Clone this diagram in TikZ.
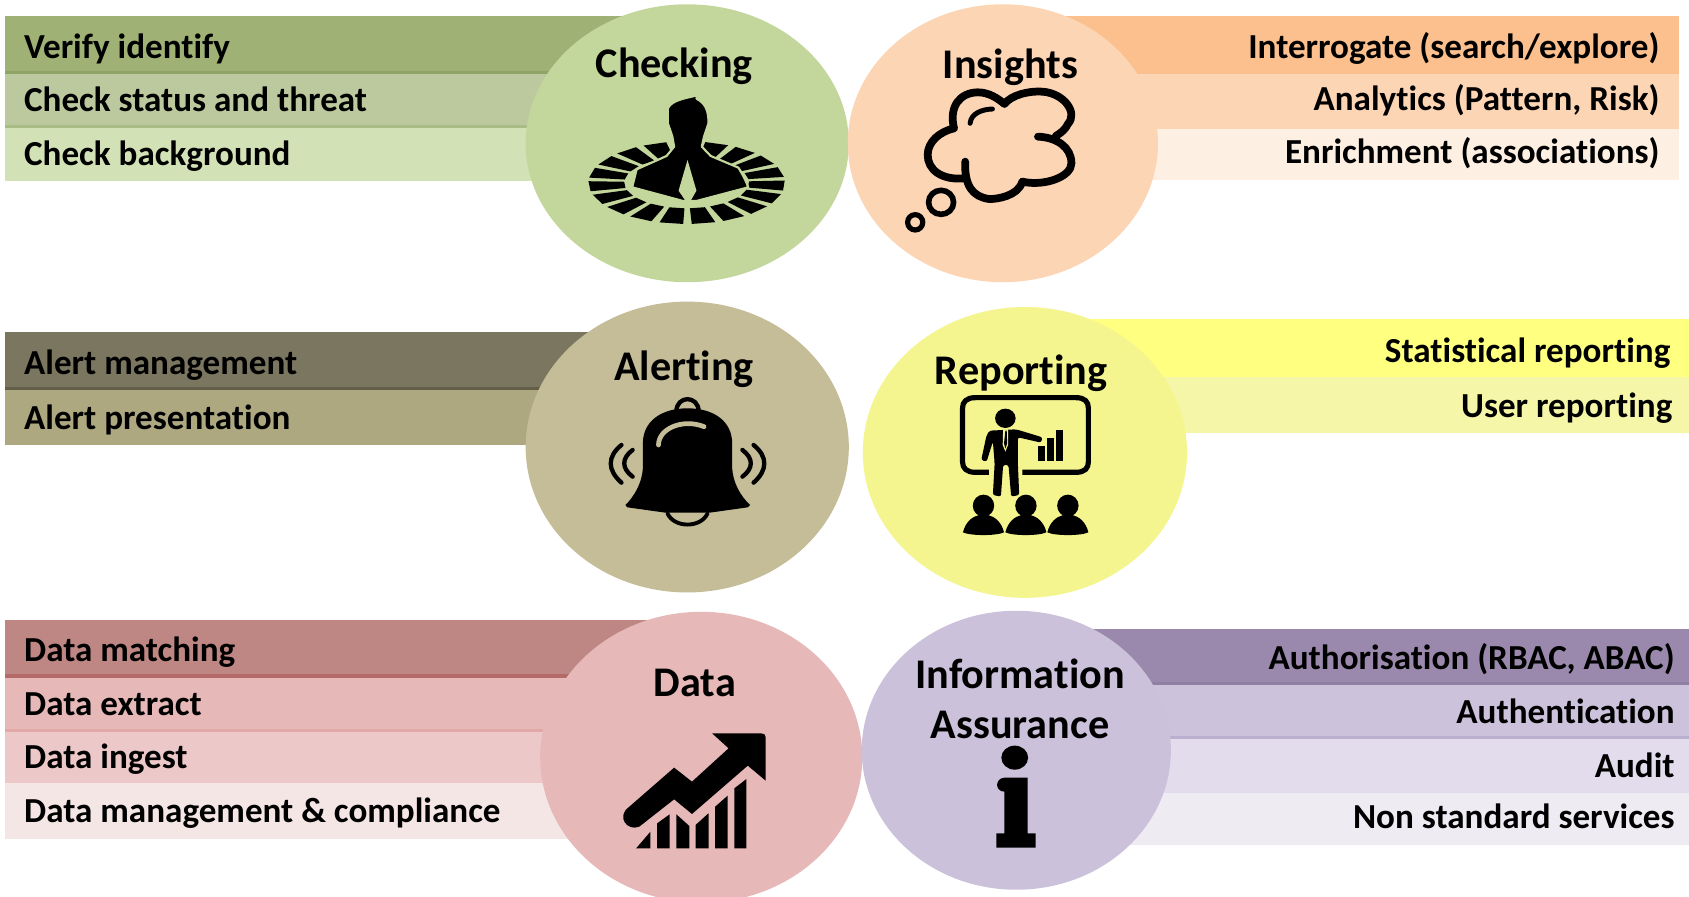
\documentclass[tikz,border=0pt]{standalone}
\usepackage{fontspec}
\setmainfont{Carlito}[Ligatures=NoCommon]
\begin{document}
\begin{tikzpicture}[x=0.5pt,y=-0.5pt,
  lab/.style={font=\fontsize{16.3}{19}\selectfont\bfseries,text=black,inner sep=0pt},
  labl/.style={lab,anchor=base west},
  labr/.style={lab,anchor=base east},
  ttl/.style={font=\fontsize{19.6}{23}\selectfont\bfseries,text=black,inner sep=0pt,anchor=base},
  iconA/.style={x=0.20721pt,y=-0.15472pt,xshift=232.1pt,yshift=0pt},
  iconB/.style={x=0.20721pt,y=-0.15472pt,xshift=232.1pt,yshift=-139.25pt},
  iconC/.style={x=0.20721pt,y=-0.15472pt,xshift=232.1pt,yshift=-278.5pt},
  strk/.style={draw=black,line cap=round,line join=round}]
\path[use as bounding box] (0,0) rectangle (1568,832.7);
\clip (0,0) rectangle (1568,832.7);
\fill[white] (0,0) rectangle (1568,832.7);

% ---------- bars
\newcommand{\barrow}[6]{% x1,y1,x2,y2,fill,line
  \fill[#5] (#1,#2) rectangle (#3,#4);
  \fill[#6] (#1,#4-3) rectangle (#3,#4);}
\definecolor{ca}{HTML}{9FB175}\definecolor{cal}{HTML}{8FA565}
\definecolor{cb}{HTML}{BCC99F}\definecolor{cbl}{HTML}{A9BC85}
\definecolor{cc}{HTML}{D3E1B7}
\barrow{5}{15}{640}{69}{ca}{cal}
\barrow{5}{69}{640}{119}{cb}{cbl}
\barrow{5}{119}{640}{168}{cc}{cc}
\definecolor{oa}{HTML}{FBC08E}\definecolor{ob}{HTML}{FCD5B5}\definecolor{oc}{HTML}{FDEFE2}
\barrow{930}{15}{1559}{69}{oa}{oa}
\barrow{930}{69}{1559}{120}{ob}{ob}
\barrow{930}{120}{1559}{167}{oc}{oc}
\definecolor{ba}{HTML}{7A7660}\definecolor{bal}{HTML}{625E48}\definecolor{bb}{HTML}{AEA881}
\barrow{5}{308}{640}{362}{ba}{bal}
\barrow{5}{362}{640}{413}{bb}{bb}
\definecolor{ya}{HTML}{FFFF80}\definecolor{yb}{HTML}{F6F6A9}
\barrow{950}{296}{1568}{350}{ya}{ya}
\barrow{950}{350}{1568}{402}{yb}{yb}
\definecolor{ra}{HTML}{BF8784}\definecolor{ral}{HTML}{B56A6A}
\definecolor{rb}{HTML}{E6B8B7}\definecolor{rbl}{HTML}{E0A8A7}
\definecolor{rc}{HTML}{EDC8C8}\definecolor{rd}{HTML}{F5E6E6}
\barrow{5}{576}{650}{629}{ra}{ral}
\barrow{5}{629}{650}{680}{rb}{rbl}
\barrow{5}{680}{650}{727}{rc}{rc}
\barrow{5}{727}{650}{779}{rd}{rd}
\definecolor{pa}{HTML}{9A89AC}\definecolor{pal}{HTML}{8F7FA3}
\definecolor{pb}{HTML}{CDC2DC}\definecolor{pbl}{HTML}{BBAFCF}
\definecolor{pc}{HTML}{E2DCEC}\definecolor{pd}{HTML}{EEEBF3}
\barrow{940}{584}{1568}{636}{pa}{pal}
\barrow{940}{636}{1568}{686}{pb}{pbl}
\barrow{940}{686}{1568}{736}{pc}{pc}
\barrow{940}{736}{1568}{784}{pd}{pd}

% ---------- ellipses
\definecolor{eg}{HTML}{C3D69B}\definecolor{eo}{HTML}{FCD5B5}\definecolor{eb}{HTML}{C4BD97}
\definecolor{ey}{HTML}{F5F58F}\definecolor{er}{HTML}{E6B8B7}\definecolor{ep}{HTML}{CCC1DA}
\fill[eg] (638,133) ellipse [x radius=150,y radius=129];
\fill[eo] (931,133) ellipse [x radius=144,y radius=129];
\fill[eb] (638,415) ellipse [x radius=150,y radius=135];
\fill[ey] (951.5,420) ellipse [x radius=150.5,y radius=135];
\fill[er] (651,703) ellipse [x radius=149.5,y radius=135];
\fill[ep] (943.5,696.5) ellipse [x radius=143.5,y radius=129.5];

% ---------- bar labels
\node[labl] (l1) at (22,54.5) {Verify identify};
\node[labl] (l2) at (22,103.5) {Check status and threat};
\node[labl] (l3) at (22,153.5) {Check background};
\node[labr] (r1) at (1541,54.5) {Interrogate (search/explore)};
\node[labr] (r2) at (1541,102.5) {Analytics (Pattern, Risk)};
\node[labr] (r3) at (1541,151.5) {Enrichment (associations)};
\node[labl] (l4) at (22,347.5) {Alert management};
\node[labl] (l5) at (22,398.5) {Alert presentation};
\node[labr] (r4) at (1551,336.5) {Statistical reporting};
\node[labr] (r5) at (1553,387.5) {User reporting};
\node[labl] (l6) at (22,614.5) {Data matching};
\node[labl] (l7) at (22,664.5) {Data extract};
\node[labl] (l8) at (22,713.5) {Data ingest};
\node[labl] (l9) at (22,763.5) {Data management \& compliance};
\node[labr] (r6) at (1555,621.5) {Authorisation (RBAC, ABAC)};
\node[labr] (r7) at (1555,671.5) {Authentication};
\node[labr] (r8) at (1555,721.5) {Audit};
\node[labr] (r9) at (1555,769.5) {Non standard services};

% ---------- titles
\node[ttl] (t1) at (626,71.5) {Checking};
\node[ttl] (t2) at (938,72.5) {Insights};
\node[ttl] (t3) at (635,353.5) {Alerting};
\node[ttl] (t4) at (948,356.5) {Reporting};
\node[ttl] (t5) at (645,646.5) {Data};
\node[ttl] (t6) at (947,639.5) {Information};
\node[ttl] (t7) at (947,685.5) {Assurance};

% ---------- Checking icon
\begin{scope}[iconA]
  \foreach \k in {0,...,17}{
    \pgfmathsetmacro{\aa}{288+\k*19-7}
    \pgfmathsetmacro{\ab}{288+\k*19+7}
    \fill[black] ({418+220*cos(\aa)},{548+124*sin(\aa)}) -- ({418+220*cos(\ab)},{548+124*sin(\ab)})
      -- ({418+140*cos(\ab)},{548+77*sin(\ab)}) -- ({418+140*cos(\aa)},{548+77*sin(\aa)}) -- cycle;
  }
  \fill[black,draw=eg,line width=1pt,line join=round]
    (376,325) .. controls (385,300) and (415,295) .. (442,286) -- (440,296)
    .. controls (460,310) and (467,330) .. (467,370) -- (457,410) -- (452,440) -- (472,468)
    -- (534,503) .. controls (544,525) and (552,545) .. (556,562) -- (440,603) -- (420,603) -- (410,603)
    -- (296,562) -- (306,508) -- (373,468) -- (390,440) -- (386,410) -- (376,370) -- cycle;
  \fill[eg] (420,480) -- (440,572) -- (428,600) -- (414,600) -- (400,572) -- cycle;
\end{scope}

% ---------- Cloud icon
\begin{scope}[iconA]
  \draw[strk,line width=3.6pt]
    (1042,535) .. controls (990,542) and (958,510) .. (958,465)
    .. controls (958,425) and (985,395) .. (1017,385)
    .. controls (1005,320) and (1030,278) .. (1070,277)
    .. controls (1095,277) and (1115,295) .. (1130,312)
    .. controls (1145,285) and (1185,272) .. (1215,275)
    .. controls (1265,280) and (1295,340) .. (1272,372)
    .. controls (1268,385) and (1258,398) .. (1245,408)
    (1205,410) .. controls (1245,412) and (1280,440) .. (1280,490)
    .. controls (1280,530) and (1220,560) .. (1170,545)
    .. controls (1160,590) and (1110,598) .. (1095,597)
    .. controls (1060,590) and (1040,560) .. (1042,485);
  \draw[strk,line width=2.3pt] (1053,370) .. controls (1055,340) and (1080,328) .. (1103,327);
  \draw[black,line width=2.6pt] (988,607) ellipse [x radius=28,y radius=36];
  \draw[black,line width=2.4pt] (930,667) ellipse [x radius=17,y radius=23];
\end{scope}

% ---------- Bell icon
\begin{scope}[iconB]
  \draw[strk,line width=2pt] (395,335) .. controls (395,285) and (445,285) .. (445,335);
  \fill[black] (420,325) .. controls (480,325) and (520,365) .. (520,430)
    -- (520,505) .. controls (522,550) and (540,590) .. (560,615) -- (555,622)
    -- (470,638) -- (370,638) -- (285,622) -- (281,615)
    .. controls (300,590) and (318,550) .. (320,505) -- (320,430)
    .. controls (320,365) and (360,325) .. cycle;
  \draw[strk,line width=1.8pt] (375,640) .. controls (390,685) and (450,685) .. (465,640);
  \draw[eb,line width=2.2pt,line cap=round] (355,435) .. controls (355,385) and (410,355) .. (457,380);
  \draw[strk,line width=2pt] (272,435) .. controls (240,470) and (240,510) .. (272,548);
  \draw[strk,line width=2pt] (297,450) .. controls (272,475) and (272,505) .. (297,530);
  \draw[strk,line width=2pt] (568,435) .. controls (600,470) and (600,510) .. (568,548);
  \draw[strk,line width=2pt] (543,450) .. controls (568,475) and (568,505) .. (543,530);
\end{scope}

% ---------- Presenter icon
\begin{scope}[iconB]
  \draw[black,line width=2.4pt,line cap=butt,line join=round]
    (1095,517) -- (1065,517) .. controls (1045,517) and (1036,505) .. (1036,485)
    -- (1036,325) .. controls (1036,305) and (1045,293) .. (1065,293)
    -- (1290,293) .. controls (1310,293) and (1318,305) .. (1318,325)
    -- (1318,485) .. controls (1318,505) and (1310,517) .. (1290,517) -- (1170,517);
  \fill[black] (1132,355) ellipse [x radius=23,y radius=29];
  \fill[black,rounded corners=1pt] (1097,392) -- (1156,388) -- (1215,412) -- (1212,428)
    -- (1160,412) -- (1160,490) -- (1163,585) -- (1145,590) -- (1139,495) -- (1127,495) -- (1122,590)
    -- (1104,585) -- (1108,490) -- (1104,425) -- (1090,485) -- (1078,480) -- (1090,405) -- cycle;
  \fill[ey] (1127,388) -- (1138,388) -- (1138,435) -- (1132,455) -- (1126,435) -- cycle;
  \fill[black] (1132,392) -- (1135,392) -- (1136,430) -- (1132,446) -- (1129,430) -- cycle;
  \fill[black] (1205,437) rectangle (1220,482);
  \fill[black] (1226,415) rectangle (1241,482);
  \fill[black] (1246,390) rectangle (1261,482);
  \foreach \c in {1083,1178,1272}{
    \fill[black] (\c,617) ellipse [x radius=24,y radius=33];
    \fill[black] (\c-46,697) .. controls (\c-40,665) and (\c-25,650) .. (\c-10,645)
      -- (\c+10,645) .. controls (\c+25,650) and (\c+40,665) .. (\c+46,697)
      .. controls (\c+30,708) and (\c-30,708) .. (\c-46,697) -- cycle;
  }
\end{scope}

% ---------- Arrow icon
\begin{scope}[iconC]
  \fill[black] (475,400) -- (585,400) .. controls (592,400) and (595,405) .. (595,412)
    -- (595,542) -- (555,497) -- (430,642) -- (390,598) -- (312,680)
    .. controls (285,695) and (260,650) .. (288,622)
    -- (390,503) -- (430,545) -- (512,445) -- cycle;
  \fill[black] (305,745) -- (337,695) -- (337,745) -- cycle;
  \fill[black] (352,745) -- (352,670) -- (380,643) -- (380,745) -- cycle;
  \fill[black] (395,745) -- (395,643) -- (424,678) -- (424,745) -- cycle;
  \fill[black] (438,745) -- (438,675) -- (467,640) -- (467,745) -- cycle;
  \fill[black] (482,745) -- (482,620) -- (510,587) -- (510,745) -- cycle;
  \fill[black] (525,745) -- (525,565) -- (552,537) -- (552,745) -- cycle;
\end{scope}

% ---------- Info icon
\begin{scope}[iconC]
  \fill[black] (1153,473) ellipse [x radius=30,y radius=36];
  \fill[black] (1130,533) -- (1182,533) -- (1182,700) -- (1200,700) -- (1200,743)
    -- (1112,743) -- (1112,700) -- (1130,700) -- (1130,575)
    .. controls (1108,575) and (1108,535) .. (1130,533) -- cycle;
\end{scope}
\end{tikzpicture}
\end{document}
